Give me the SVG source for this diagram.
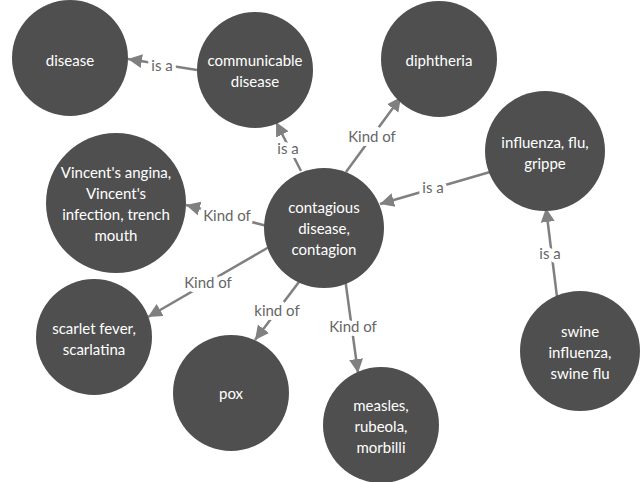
<svg xmlns="http://www.w3.org/2000/svg" width="643" height="482" viewBox="0 0 643 482">
  <defs>
    <marker id="arrow" markerUnits="userSpaceOnUse" markerWidth="16" markerHeight="16" viewBox="0 0 16 16" refX="14" refY="8" orient="auto">
      <path d="M0,1 L14,8 L0,15 Z" fill="#808080"/>
    </marker>
    <style>
      .node circle { fill: #4f4f4f; }
      .node text { fill: #ffffff; font-family: Lato, "Liberation Sans", sans-serif; font-size: 15px; text-anchor: middle; }
      .edge line { stroke: #808080; stroke-width: 2.5; marker-end: url(#arrow); }
      .edge text { fill: #666666; font-family: Lato, "Liberation Sans", sans-serif; font-size: 15px; text-anchor: middle; stroke: #ffffff; stroke-width: 8px; paint-order: stroke; stroke-linejoin: round; }
    </style>
  </defs>
  <rect width="643" height="482" fill="#ffffff"/>

  <!-- connectors -->
  <g id="edges">
    <g class="edge" id="e-communicable-disease">
      <line x1="197" y1="70" x2="128" y2="59"/>
      <text x="162" y="71">is a</text>
    </g>
    <g class="edge" id="e-contagious-communicable">
      <line x1="301" y1="171" x2="276" y2="122"/>
      <text x="288" y="154">is a</text>
    </g>
    <g class="edge" id="e-contagious-diphtheria">
      <line x1="346" y1="172" x2="401" y2="97"/>
      <text x="372" y="142">Kind of</text>
    </g>
    <g class="edge" id="e-influenza-contagious">
      <line x1="490" y1="172" x2="380" y2="204"/>
      <text x="433" y="193">is a</text>
    </g>
    <g class="edge" id="e-contagious-vincent">
      <line x1="267" y1="226" x2="186" y2="205"/>
      <text x="227" y="221">Kind of</text>
    </g>
    <g class="edge" id="e-contagious-scarlet">
      <line x1="269" y1="247" x2="148" y2="317"/>
      <text x="208" y="288">Kind of</text>
    </g>
    <g class="edge" id="e-contagious-pox">
      <line x1="302" y1="278" x2="255" y2="340"/>
      <text x="277" y="316">kind of</text>
    </g>
    <g class="edge" id="e-contagious-measles">
      <line x1="345" y1="278" x2="358" y2="373"/>
      <text x="353" y="332">Kind of</text>
    </g>
    <g class="edge" id="e-swine-influenza">
      <line x1="557" y1="297" x2="546" y2="208"/>
      <text x="550" y="259">is a</text>
    </g>
  </g>

  <!-- nodes -->
  <g class="node" id="disease">
    <circle cx="70" cy="58" r="58"/>
    <text x="70" y="66">disease</text>
  </g>
  <g class="node" id="communicable-disease">
    <circle cx="255" cy="70" r="58"/>
    <text x="255" y="66">communicable</text>
    <text x="255" y="87">disease</text>
  </g>
  <g class="node" id="diphtheria">
    <circle cx="439" cy="59" r="58"/>
    <text x="439" y="66">diphtheria</text>
  </g>
  <g class="node" id="influenza">
    <circle cx="545" cy="151" r="60"/>
    <text x="545" y="148">influenza, flu,</text>
    <text x="545" y="169">grippe</text>
  </g>
  <g class="node" id="vincent">
    <circle cx="116" cy="203" r="70"/>
    <text x="116" y="178">Vincent's angina,</text>
    <text x="116" y="199">Vincent's</text>
    <text x="116" y="220">infection, trench</text>
    <text x="116" y="241">mouth</text>
  </g>
  <g class="node" id="contagious-disease">
    <circle cx="324" cy="228" r="60"/>
    <text x="324" y="213">contagious</text>
    <text x="324" y="234">disease,</text>
    <text x="324" y="255">contagion</text>
  </g>
  <g class="node" id="scarlet-fever">
    <circle cx="94" cy="337" r="58"/>
    <text x="94" y="334">scarlet fever,</text>
    <text x="94" y="355">scarlatina</text>
  </g>
  <g class="node" id="pox">
    <circle cx="231" cy="393" r="58"/>
    <text x="231" y="399">pox</text>
  </g>
  <g class="node" id="measles">
    <circle cx="381" cy="425" r="58"/>
    <text x="381" y="411">measles,</text>
    <text x="381" y="432">rubeola,</text>
    <text x="381" y="453">morbilli</text>
  </g>
  <g class="node" id="swine-influenza">
    <circle cx="580" cy="351" r="60"/>
    <text x="580" y="337">swine</text>
    <text x="580" y="358">influenza,</text>
    <text x="580" y="379">swine flu</text>
  </g>
</svg>
